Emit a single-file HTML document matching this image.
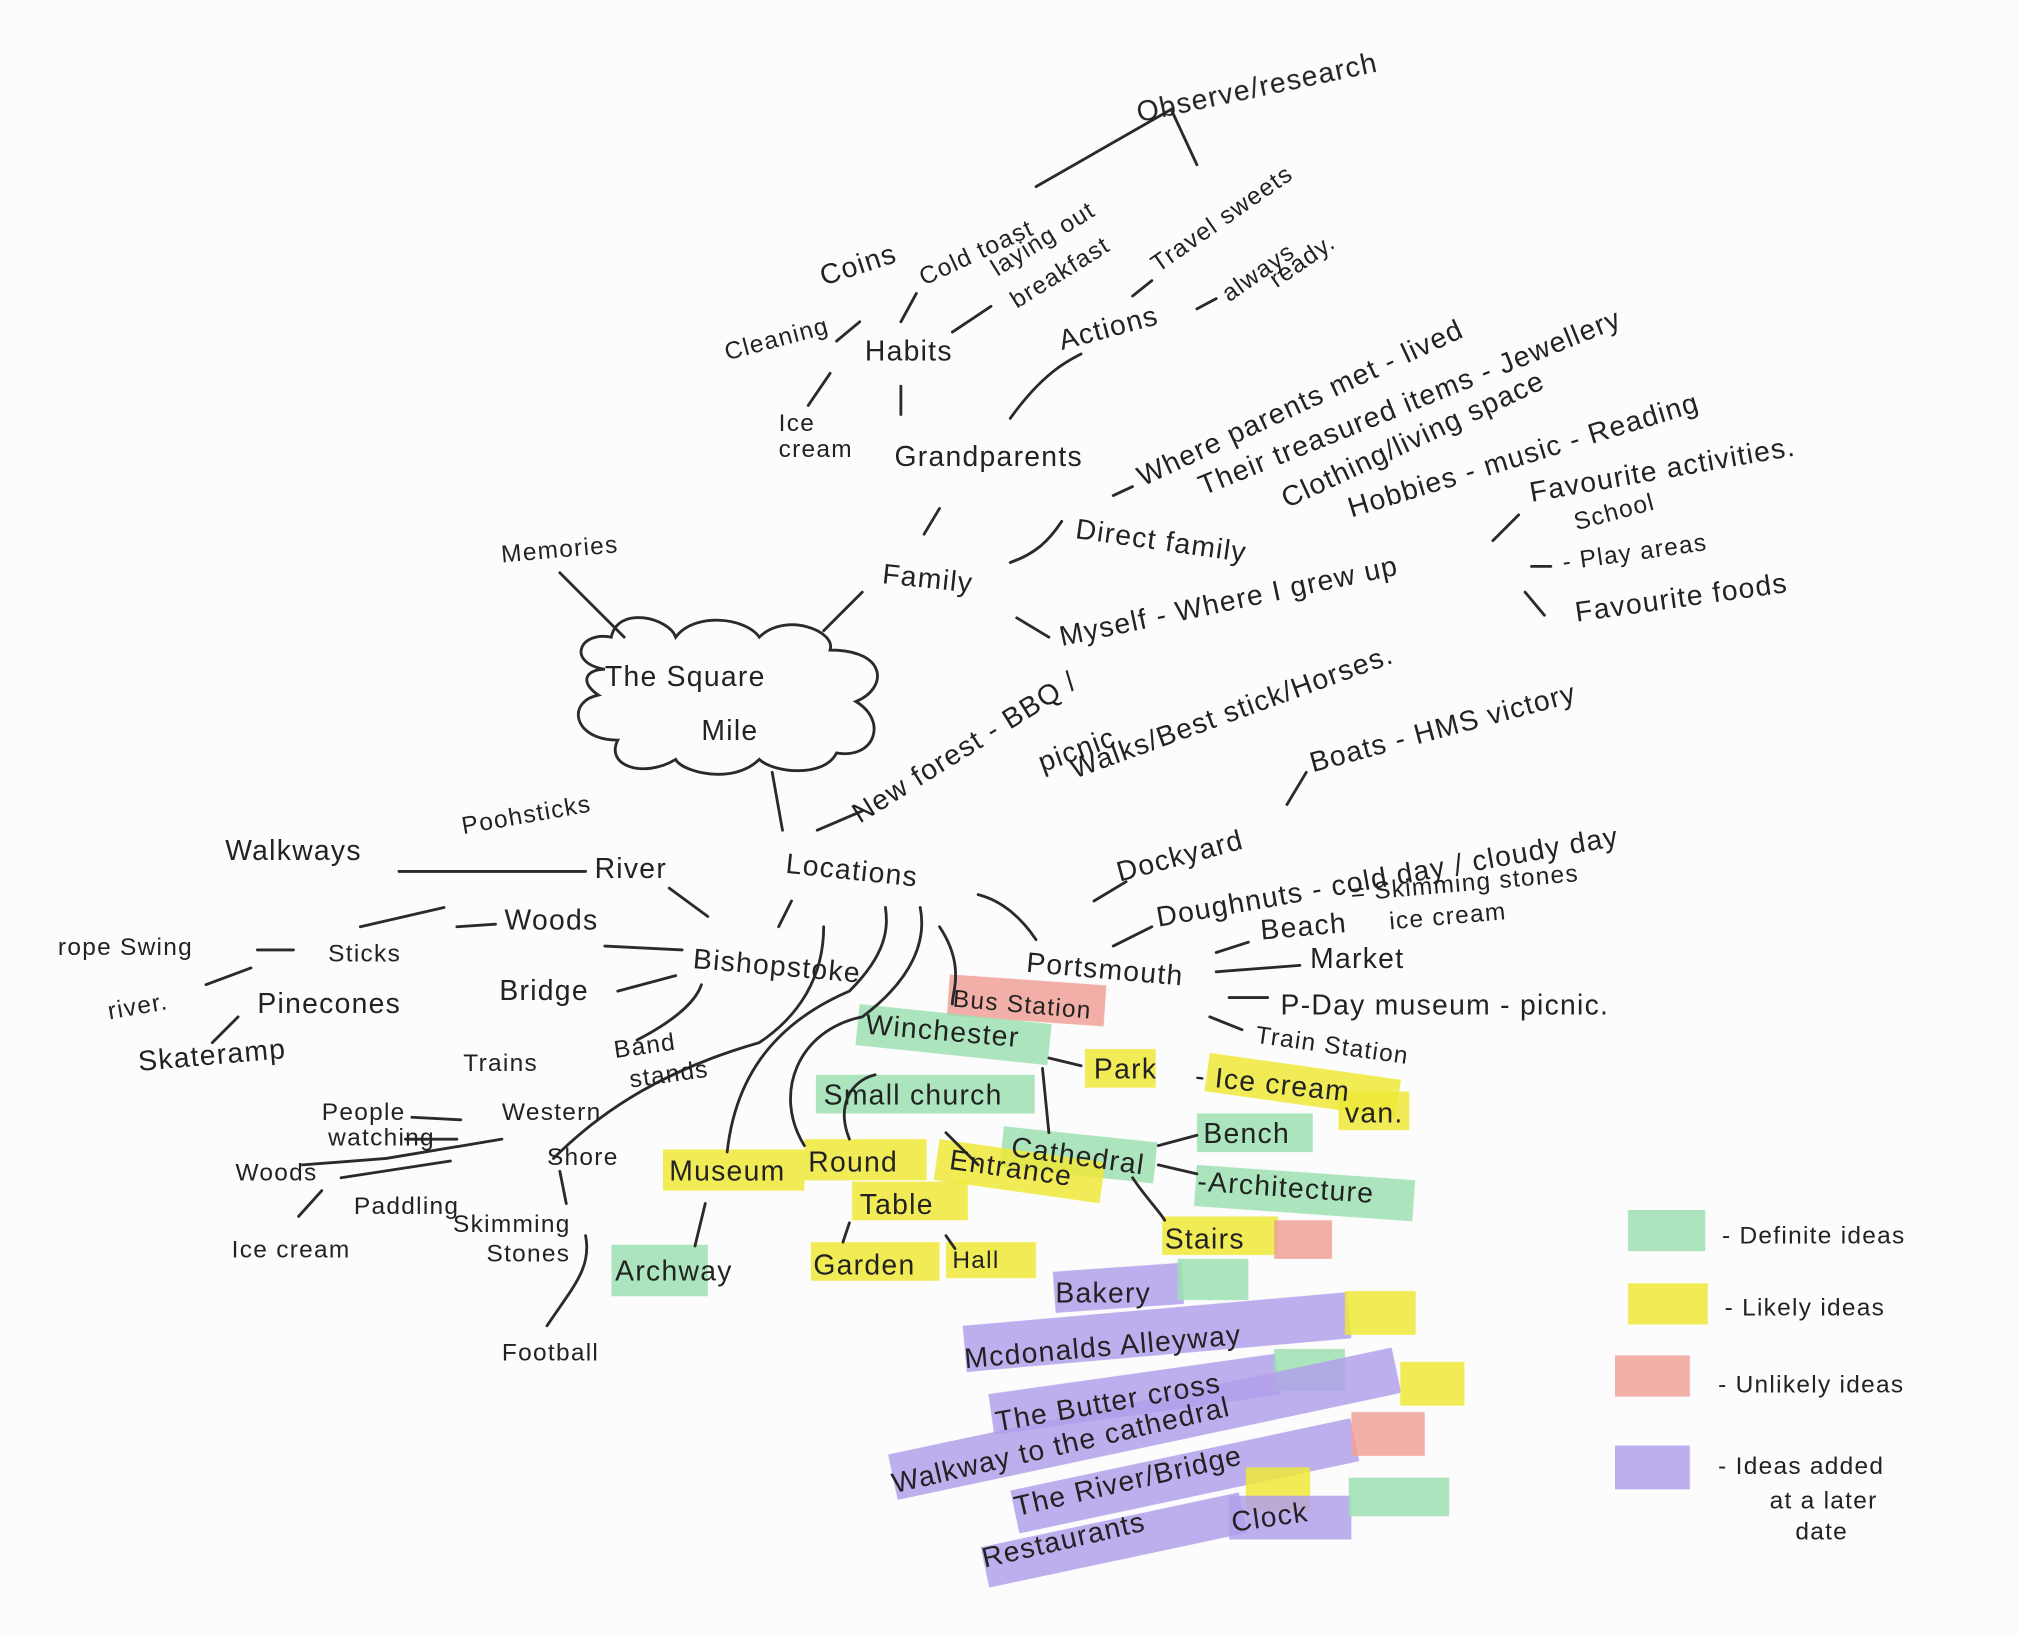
<!DOCTYPE html>
<html><head><meta charset="utf-8"><style>
html,body{margin:0;padding:0;background:#fcfcfc;}
svg{display:block;}
text{font-family:"Liberation Sans","DejaVu Sans",sans-serif;font-size:22px;fill:#222;letter-spacing:1px;}
.s{font-size:19px;}
.l{fill:none;stroke:#2a2a2a;stroke-width:2.2;stroke-linecap:round;}
.g{fill:#9fe3b4;opacity:.85}
.y{fill:#f2ec3a;opacity:.85}
.r{fill:#f2a39a;opacity:.85}
.p{fill:#b4a2ee;opacity:.85}
</style></head><body>
<svg width="2018" height="1636" viewBox="0 0 1568 1271" preserveAspectRatio="none" xmlns="http://www.w3.org/2000/svg">
<rect width="1568" height="1271" fill="#fcfcfc"/>
<g style="mix-blend-mode:multiply">
<rect class="r" x="738" y="757" width="122" height="32" transform="rotate(4 738 757)"/>
<rect class="g" x="668" y="780" width="150" height="32" transform="rotate(6 668 780)"/>
<rect class="y" x="843" y="815" width="55" height="30"/>
<rect class="y" x="940" y="818" width="150" height="30" transform="rotate(8 940 818)"/>
<rect class="y" x="1040" y="848" width="55" height="30"/>
<rect class="g" x="634" y="835" width="170" height="30"/>
<rect class="g" x="780" y="875" width="120" height="32" transform="rotate(6 780 875)"/>
<rect class="g" x="930" y="865" width="90" height="30"/>
<rect class="g" x="930" y="905" width="170" height="32" transform="rotate(4 930 905)"/>
<rect class="y" x="730" y="885" width="130" height="32" transform="rotate(8 730 885)"/>
<rect class="y" x="625" y="885" width="95" height="32"/>
<rect class="y" x="662" y="918" width="90" height="30"/>
<rect class="y" x="515" y="893" width="110" height="32"/>
<rect class="g" x="475" y="967" width="75" height="40"/>
<rect class="y" x="630" y="965" width="100" height="30"/>
<rect class="y" x="735" y="965" width="70" height="28"/>
<rect class="y" x="903" y="945" width="90" height="30"/>
<rect class="r" x="990" y="948" width="45" height="30"/>
<rect class="p" x="818" y="988" width="100" height="32" transform="rotate(-4 818 988)"/>
<rect class="g" x="915" y="978" width="55" height="32"/>
<rect class="p" x="748" y="1030" width="300" height="36" transform="rotate(-5 748 1030)"/>
<rect class="y" x="1045" y="1003" width="55" height="34"/>
<rect class="p" x="768" y="1083" width="225" height="32" transform="rotate(-8 768 1083)"/>
<rect class="g" x="990" y="1048" width="55" height="32"/>
<rect class="p" x="690" y="1130" width="400" height="36" transform="rotate(-12 690 1130)"/>
<rect class="y" x="1088" y="1058" width="50" height="34"/>
<rect class="p" x="785" y="1158" width="270" height="34" transform="rotate(-12 785 1158)"/>
<rect class="r" x="1050" y="1097" width="57" height="34"/>
<rect class="p" x="762" y="1202" width="205" height="32" transform="rotate(-12 762 1202)"/>
<rect class="y" x="968" y="1140" width="50" height="34"/>
<rect class="p" x="955" y="1162" width="95" height="34"/>
<rect class="g" x="1048" y="1148" width="78" height="30"/>
<rect class="g" x="1265" y="940" width="60" height="32"/>
<rect class="y" x="1265" y="997" width="62" height="32"/>
<rect class="r" x="1255" y="1053" width="58" height="32"/>
<rect class="p" x="1255" y="1123" width="58" height="34"/>
</g>
<path class="l" d="M470 520 C440 515 450 490 475 495 C480 470 520 480 525 495 C540 475 580 480 590 495 C610 475 650 490 645 505 C690 505 690 535 665 545 C690 560 680 590 650 585 C640 605 600 600 590 590 C570 610 530 600 525 590 C500 605 470 595 480 575 C445 575 440 545 465 540 C450 530 455 520 470 520Z"/>
<text x="470" y="533" font-size="26">The Square</text>
<text x="545" y="575" font-size="26">Mile</text>
<path class="l" d="M805 145 L910 85 L930 128"/>
<path class="l" d="M650 265 L668 250"/>
<path class="l" d="M700 250 L712 228"/>
<path class="l" d="M740 258 L770 238"/>
<path class="l" d="M628 315 L645 290"/>
<path class="l" d="M700 300 L700 322"/>
<path class="l" d="M785 325 C810 290 830 280 840 275"/>
<path class="l" d="M880 230 L895 218"/>
<path class="l" d="M930 240 L945 232"/>
<path class="l" d="M730 395 L718 415"/>
<path class="l" d="M865 385 L880 378"/>
<path class="l" d="M785 437 C805 430 815 420 825 405"/>
<path class="l" d="M790 480 L815 495"/>
<path class="l" d="M1160 420 L1180 400"/>
<path class="l" d="M1190 440 L1205 440"/>
<path class="l" d="M1185 460 L1200 478"/>
<path class="l" d="M640 490 L670 460"/>
<path class="l" d="M435 445 L485 495"/>
<path class="l" d="M600 600 L608 645"/>
<path class="l" d="M635 645 L670 630"/>
<path class="l" d="M1000 625 L1015 600"/>
<path class="l" d="M850 700 L875 685"/>
<path class="l" d="M865 735 L895 720"/>
<path class="l" d="M945 740 L970 732"/>
<path class="l" d="M945 755 L1010 750"/>
<path class="l" d="M955 775 L985 775"/>
<path class="l" d="M940 790 L965 800"/>
<path class="l" d="M760 695 C780 700 795 715 805 730"/>
<path class="l" d="M310 677 L455 677"/>
<path class="l" d="M520 690 L550 712"/>
<path class="l" d="M355 720 L385 718"/>
<path class="l" d="M470 735 L530 738"/>
<path class="l" d="M480 770 L525 758"/>
<path class="l" d="M495 808 C520 795 540 780 545 765"/>
<path class="l" d="M200 738 L228 738"/>
<path class="l" d="M160 765 L195 752"/>
<path class="l" d="M165 810 L185 790"/>
<path class="l" d="M615 700 L605 720"/>
<path class="l" d="M280 720 L345 705"/>
<path class="l" d="M320 868 L358 870"/>
<path class="l" d="M315 885 L355 885"/>
<path class="l" d="M235 905 L300 900 L390 885"/>
<path class="l" d="M232 945 L250 925"/>
<path class="l" d="M265 915 L350 902"/>
<path class="l" d="M435 910 L440 935"/>
<path class="l" d="M425 1030 C445 1000 460 985 455 960"/>
<path class="l" d="M430 900 C470 860 520 830 590 810 C620 790 640 760 640 720"/>
<path class="l" d="M565 895 C570 850 590 800 660 770 C690 740 690 720 688 705"/>
<path class="l" d="M625 890 C600 850 620 800 670 790 C710 760 720 730 715 705"/>
<path class="l" d="M660 885 C650 860 660 840 680 835"/>
<path class="l" d="M730 720 C750 750 740 770 740 780"/>
<path class="l" d="M548 935 L540 968"/>
<path class="l" d="M660 950 L655 965"/>
<path class="l" d="M735 960 L742 970"/>
<path class="l" d="M815 822 L840 828"/>
<path class="l" d="M810 830 L815 880"/>
<path class="l" d="M735 880 L760 905"/>
<path class="l" d="M900 890 L930 882"/>
<path class="l" d="M900 905 L930 912"/>
<path class="l" d="M880 915 C890 930 900 940 905 948"/>
<text x="885" y="95" font-size="24" transform="rotate(-12 885 95)">Observe/research</text>
<text x="640" y="222" transform="rotate(-18 640 222)">Coins</text>
<text x="718" y="222" class="s" transform="rotate(-25 718 222)">Cold toast</text>
<text x="775" y="215" class="s" transform="rotate(-32 775 215)">laying out</text>
<text x="790" y="240" class="s" transform="rotate(-32 790 240)">breakfast</text>
<text x="565" y="280" class="s" transform="rotate(-15 565 280)">Cleaning</text>
<text x="672" y="280">Habits</text>
<text x="605" y="335" class="s">Ice</text>
<text x="605" y="355" class="s">cream</text>
<text x="900" y="212" class="s" transform="rotate(-35 900 212)">Travel sweets</text>
<text x="825" y="272" transform="rotate(-15 825 272)">Actions</text>
<text x="955" y="235" class="s" transform="rotate(-35 955 235)">always</text>
<text x="992" y="224" class="s" transform="rotate(-35 992 224)">ready.</text>
<text x="695" y="362">Grandparents</text>
<text x="888" y="378" transform="rotate(-25 888 378)">Where parents met - lived</text>
<text x="935" y="385" transform="rotate(-22 935 385)">Their treasured items - Jewellery</text>
<text x="1000" y="395" transform="rotate(-25 1000 395)">Clothing/living space</text>
<text x="1050" y="402" transform="rotate(-17 1050 402)">Hobbies - music - Reading</text>
<text x="1190" y="390" transform="rotate(-10 1190 390)">Favourite activities.</text>
<text x="835" y="418" transform="rotate(8 835 418)">Direct family</text>
<text x="685" y="453" transform="rotate(6 685 453)">Family</text>
<text x="390" y="437" class="s" transform="rotate(-5 390 437)">Memories</text>
<text x="825" y="502" transform="rotate(-12 825 502)">Myself - Where I grew up</text>
<text x="1225" y="412" class="s" transform="rotate(-15 1225 412)">School</text>
<text x="1215" y="443" class="s" transform="rotate(-8 1215 443)">- Play areas</text>
<text x="1225" y="483" transform="rotate(-8 1225 483)">Favourite foods</text>
<text x="668" y="640" transform="rotate(-32 668 640)">New forest - BBQ /</text>
<text x="810" y="600" transform="rotate(-20 810 600)">picnic</text>
<text x="835" y="605" transform="rotate(-20 835 605)">Walks/Best stick/Horses.</text>
<text x="1020" y="600" transform="rotate(-15 1020 600)">Boats - HMS victory</text>
<text x="870" y="685" transform="rotate(-15 870 685)">Dockyard</text>
<text x="900" y="720" transform="rotate(-10 900 720)">Doughnuts - cold day / cloudy day</text>
<text x="980" y="730" transform="rotate(-5 980 730)">Beach</text>
<text x="1050" y="700" class="s" transform="rotate(-5 1050 700)">= Skimming stones</text>
<text x="1080" y="722" class="s" transform="rotate(-5 1080 722)">ice cream</text>
<text x="1018" y="752">Market</text>
<text x="995" y="788">P-Day museum - picnic.</text>
<text x="975" y="810" class="s" transform="rotate(8 975 810)">Train Station</text>
<text x="797" y="755" transform="rotate(5 797 755)">Portsmouth</text>
<text x="740" y="782" class="s" transform="rotate(5 740 782)">Bus Station</text>
<text x="610" y="678" transform="rotate(6 610 678)">Locations</text>
<text x="175" y="668">Walkways</text>
<text x="360" y="648" class="s" transform="rotate(-10 360 648)">Poohsticks</text>
<text x="462" y="682">River</text>
<text x="392" y="722">Woods</text>
<text x="255" y="747" class="s">Sticks</text>
<text x="45" y="742" class="s">rope Swing</text>
<text x="85" y="792" class="s" transform="rotate(-10 85 792)">river.</text>
<text x="200" y="787">Pinecones</text>
<text x="108" y="832" transform="rotate(-5 108 832)">Skateramp</text>
<text x="388" y="777">Bridge</text>
<text x="538" y="752" transform="rotate(5 538 752)">Bishopstoke</text>
<text x="360" y="832" class="s">Trains</text>
<text x="478" y="822" class="s" transform="rotate(-8 478 822)">Band</text>
<text x="490" y="845" class="s" transform="rotate(-8 490 845)">stands</text>
<text x="250" y="870" class="s">People</text>
<text x="255" y="890" class="s">watching</text>
<text x="390" y="870" class="s">Western</text>
<text x="425" y="905" class="s">Shore</text>
<text x="183" y="917" class="s">Woods</text>
<text x="275" y="943" class="s">Paddling</text>
<text x="180" y="977" class="s">Ice cream</text>
<text x="352" y="957" class="s">Skimming</text>
<text x="378" y="980" class="s">Stones</text>
<text x="390" y="1057" class="s">Football</text>
<text x="672" y="803" transform="rotate(5 672 803)">Winchester</text>
<text x="850" y="838">Park</text>
<text x="928" y="843" transform="rotate(6 928 843)">- Ice cream</text>
<text x="1045" y="872">van.</text>
<text x="640" y="858">Small church</text>
<text x="785" y="898" transform="rotate(8 785 898)">Cathedral</text>
<text x="935" y="888">Bench</text>
<text x="930" y="925" transform="rotate(4 930 925)">-Architecture</text>
<text x="737" y="908" transform="rotate(8 737 908)">Entrance</text>
<text x="628" y="910" font-size="24">Round</text>
<text x="668" y="943">Table</text>
<text x="520" y="917">Museum</text>
<text x="478" y="995">Archway</text>
<text x="632" y="990">Garden</text>
<text x="740" y="985" class="s">Hall</text>
<text x="905" y="970">Stairs</text>
<text x="820" y="1012">Bakery</text>
<text x="750" y="1063" transform="rotate(-5 750 1063)">Mcdonalds  Alleyway</text>
<text x="775" y="1112" transform="rotate(-10 775 1112)">The Butter cross</text>
<text x="695" y="1160" transform="rotate(-13 695 1160)">Walkway to the cathedral</text>
<text x="790" y="1178" transform="rotate(-13 790 1178)">The River/Bridge</text>
<text x="765" y="1218" transform="rotate(-13 765 1218)">Restaurants</text>
<text x="958" y="1190" transform="rotate(-8 958 1190)">Clock</text>
<text x="1338" y="966" class="s">- Definite ideas</text>
<text x="1340" y="1022" class="s">- Likely ideas</text>
<text x="1335" y="1082" class="s">- Unlikely ideas</text>
<text x="1335" y="1145" class="s">- Ideas added</text>
<text x="1375" y="1172" class="s">at a later</text>
<text x="1395" y="1196" class="s">date</text>
</svg>
</body></html>
